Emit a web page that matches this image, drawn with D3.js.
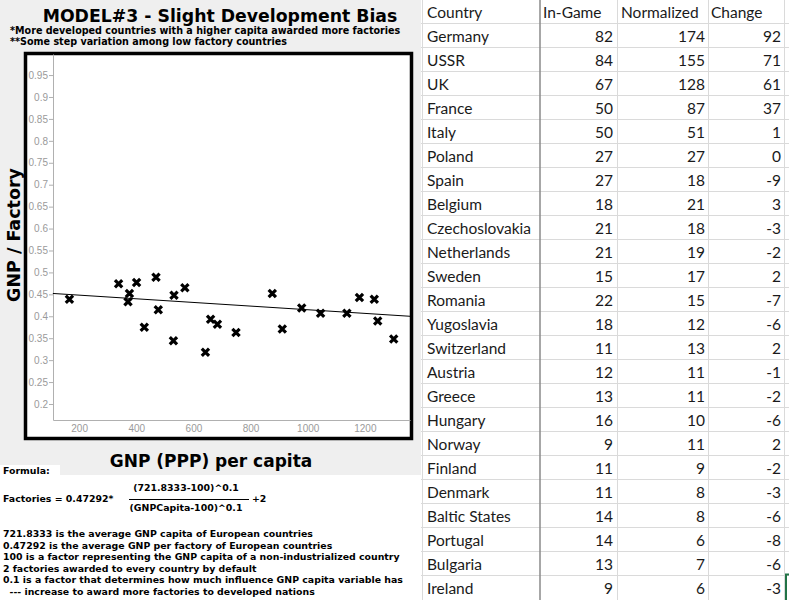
<!DOCTYPE html>
<html>
<head>
<meta charset="utf-8">
<script src="https://cdn.jsdelivr.net/npm/d3@7"></script>
<style>
  body { margin: 0; background: #fff; }
  svg { display: block; }
</style>
</head>
<body>
<script>
// Scatter points: GNP (PPP) per capita vs GNP per factory
const gnpCapita = [166, 338, 376, 371, 401, 428, 469, 477, 532, 530, 570, 642,
                   660, 684, 749, 876, 911, 979, 1045, 1137, 1181, 1233, 1245, 1301];
const gnpPerFactory = [0.439, 0.474, 0.452, 0.433, 0.477, 0.375, 0.489, 0.415, 0.448, 0.344, 0.465, 0.318,
                       0.393, 0.382, 0.363, 0.452, 0.371, 0.419, 0.407, 0.407, 0.443, 0.439, 0.389, 0.348];

// Trend line end points (GNP capita, GNP/factory)
const trendGnp = [108, 1358];
const trendVal = [0.452, 0.400];

const xTicks = [200, 400, 600, 800, 1000, 1200];
const yTicks = [0.2, 0.25, 0.3, 0.35, 0.4, 0.45, 0.5, 0.55, 0.6, 0.65, 0.7, 0.75, 0.8, 0.85, 0.9, 0.95];

// Spreadsheet table
const headers = ["Country", "In-Game", "Normalized", "Change"];
const countries = ["Germany", "USSR", "UK", "France", "Italy", "Poland", "Spain", "Belgium",
                   "Czechoslovakia", "Netherlands", "Sweden", "Romania", "Yugoslavia", "Switzerland",
                   "Austria", "Greece", "Hungary", "Norway", "Finland", "Denmark", "Baltic States",
                   "Portugal", "Bulgaria", "Ireland"];
const inGame = [82, 84, 67, 50, 50, 27, 27, 18, 21, 21, 15, 22, 18, 11, 12, 13, 16, 9, 11, 11, 14, 14, 13, 9];
const normalized = [174, 155, 128, 87, 51, 27, 18, 21, 18, 19, 17, 15, 12, 13, 11, 11, 10, 11, 9, 8, 8, 6, 7, 6];
const change = [92, 71, 61, 37, 1, 0, -9, 3, -3, -2, 2, -7, -6, 2, -1, -2, -6, 2, -2, -3, -6, -8, -6, -3];

const formulaNotes = [
    "721.8333 is the average GNP capita of European countries",
    "0.47292 is the average GNP per factory of European countries",
    "100 is a factor representing the GNP capita of a non-industrialized country",
    "2 factories awarded to every country by default",
    "0.1 is a factor that determines how much influence GNP capita variable has",
    "  --- increase to award more factories to developed nations"
];

let width = 789, height = 600;

let svg = d3.select('body')
            .append('svg')
            .attr('width', width)
            .attr('height', height);

// Left panel background
svg.append('rect')
   .attr('x', 0).attr('y', 0)
   .attr('width', 421).attr('height', 475)
   .attr('fill', '#efefef');

// Titles
const bold = "'DejaVu Sans', sans-serif";
svg.append('text')
   .attr('x', 220).attr('y', 22)
   .attr('text-anchor', 'middle')
   .style('font', `bold 17.3px ${bold}`)
   .text('MODEL#3 - Slight Development Bias');

svg.append('text')
   .attr('x', 10).attr('y', 34)
   .style('font', `bold 9.6px ${bold}`)
   .text('*More developed countries with a higher capita awarded more factories');

svg.append('text')
   .attr('x', 10).attr('y', 45)
   .style('font', `bold 9.6px ${bold}`)
   .text('**Some step variation among low factory countries');

// Plot frame
svg.append('rect')
   .attr('x', 25.5).attr('y', 53.5)
   .attr('width', 386).attr('height', 385)
   .attr('fill', '#fff')
   .attr('stroke', '#000')
   .attr('stroke-width', 3.5);

// Scales
const xScale = d3.scaleLinear()
    .domain([108.5, 1358])
    .range([53, 410]);

const yScale = d3.scaleLinear()
    .domain([0.1635, 0.998])
    .range([420, 54]);

// Axes
const xAxis = svg.append("g")
   .attr("transform", `translate(0,420)`)
   .call(d3.axisBottom(xScale).tickValues(xTicks).tickFormat(d3.format("d"))
           .tickSize(0).tickSizeOuter(0).tickPadding(5));

const yAxis = svg.append("g")
   .attr("transform", `translate(53,0)`)
   .call(d3.axisLeft(yScale).tickValues(yTicks).tickFormat(d3.format("~g"))
           .tickSize(4).tickSizeOuter(0).tickPadding(1));

[xAxis, yAxis].forEach(ax => {
    ax.select('.domain').attr('stroke', '#b0b0b0');
    ax.selectAll('.tick line').attr('stroke', '#b0b0b0');
    ax.selectAll('.tick text')
      .attr('fill', '#9a9a9a')
      .style('font', "10px 'Liberation Sans', Arial, sans-serif");
});

// Trend line
const line = d3.line()
    .x(d => xScale(d[0]))
    .y(d => yScale(d[1]));

svg.append('path')
   .datum(trendGnp.map((g, i) => [g, trendVal[i]]))
   .attr('fill', 'none')
   .attr('stroke', '#000')
   .attr('stroke-width', 1)
   .attr('d', line);

// Points as bold crosses
svg.selectAll('path.pt')
   .data(gnpCapita.map((g, i) => [g, gnpPerFactory[i]]))
   .enter()
   .append('path')
   .attr('class', 'pt')
   .attr('transform', d => `translate(${xScale(d[0])},${yScale(d[1])})`)
   .attr('d', d3.symbol().type(d3.symbolTimes).size(36))
   .attr('fill', 'none')
   .attr('stroke', '#000')
   .attr('stroke-width', 3.2);

// Axis labels
svg.append('text')
   .attr('x', 211).attr('y', 467)
   .attr('text-anchor', 'middle')
   .style('font', `bold 17px ${bold}`)
   .text('GNP (PPP) per capita');

svg.append('text')
   .attr('transform', 'translate(20,235) rotate(-90)')
   .attr('text-anchor', 'middle')
   .style('font', `bold 17.5px ${bold}`)
   .text('GNP / Factory');

// Formula block
const small = `bold 9.4px ${bold}`;
svg.append('rect')
   .attr('x', 0).attr('y', 465)
   .attr('width', 60).attr('height', 11)
   .attr('fill', '#fff');

svg.append('text')
   .attr('x', 3).attr('y', 474)
   .style('font', small)
   .text('Formula:');

svg.append('text')
   .attr('x', 3).attr('y', 502)
   .style('font', small)
   .text('Factories = 0.47292*');

svg.append('text')
   .attr('x', 186).attr('y', 491)
   .attr('text-anchor', 'middle')
   .style('font', small)
   .text('(721.8333-100)^0.1');

svg.append('line')
   .attr('x1', 129).attr('x2', 249)
   .attr('y1', 499.5).attr('y2', 499.5)
   .attr('stroke', '#000');

svg.append('text')
   .attr('x', 186).attr('y', 511)
   .attr('text-anchor', 'middle')
   .style('font', small)
   .text('(GNPCapita-100)^0.1');

svg.append('text')
   .attr('x', 252).attr('y', 502)
   .style('font', small)
   .text('+2');

formulaNotes.forEach((t, i) => {
    svg.append('text')
       .attr('x', 3).attr('y', 537 + i * 11.5)
       .style('white-space', 'pre')
       .style('font', small)
       .text(t);
});

// Spreadsheet table
const rowH = 24;
const grid = svg.append('g');
for (let r = 1; r <= countries.length; r++) {
    grid.append('line')
        .attr('x1', 421).attr('x2', width)
        .attr('y1', r * rowH - 0.5).attr('y2', r * rowH - 0.5)
        .attr('stroke', '#dadada');
}
[422.5, 617.5, 708.5, 784.5].forEach(x => {
    grid.append('line')
        .attr('x1', x).attr('x2', x)
        .attr('y1', 0).attr('y2', height)
        .attr('stroke', '#dadada');
});
grid.append('line')
    .attr('x1', 540).attr('x2', 540)
    .attr('y1', 0).attr('y2', height)
    .attr('stroke', '#8a8a8a')
    .attr('stroke-width', 1.5);

const cellFont = "15.5px Lato, 'Open Sans', sans-serif";
const headX = [427, 543, 621, 711];
headers.forEach((h, i) => {
    svg.append('text')
       .attr('x', headX[i]).attr('y', 17.5)
       .style('font', cellFont)
       .attr('fill', '#1a1a1a')
       .text(h);
});

const numRight = [613, 705, 781];
countries.forEach((c, i) => {
    const y = (i + 1) * rowH + 17.5;
    svg.append('text')
       .attr('x', 427).attr('y', y)
       .style('font', cellFont)
       .attr('fill', '#1a1a1a')
       .text(c);
    [inGame[i], normalized[i], change[i]].forEach((v, j) => {
        svg.append('text')
           .attr('x', numRight[j]).attr('y', y)
           .attr('text-anchor', 'end')
           .style('font', cellFont)
           .attr('fill', '#1a1a1a')
           .text(v);
    });
});

// Selected cell marker
svg.append('path')
   .attr('d', 'M786,600V574.5H789')
   .attr('fill', 'none')
   .attr('stroke', '#217346')
   .attr('stroke-width', 2);
</script>
</body>
</html>
